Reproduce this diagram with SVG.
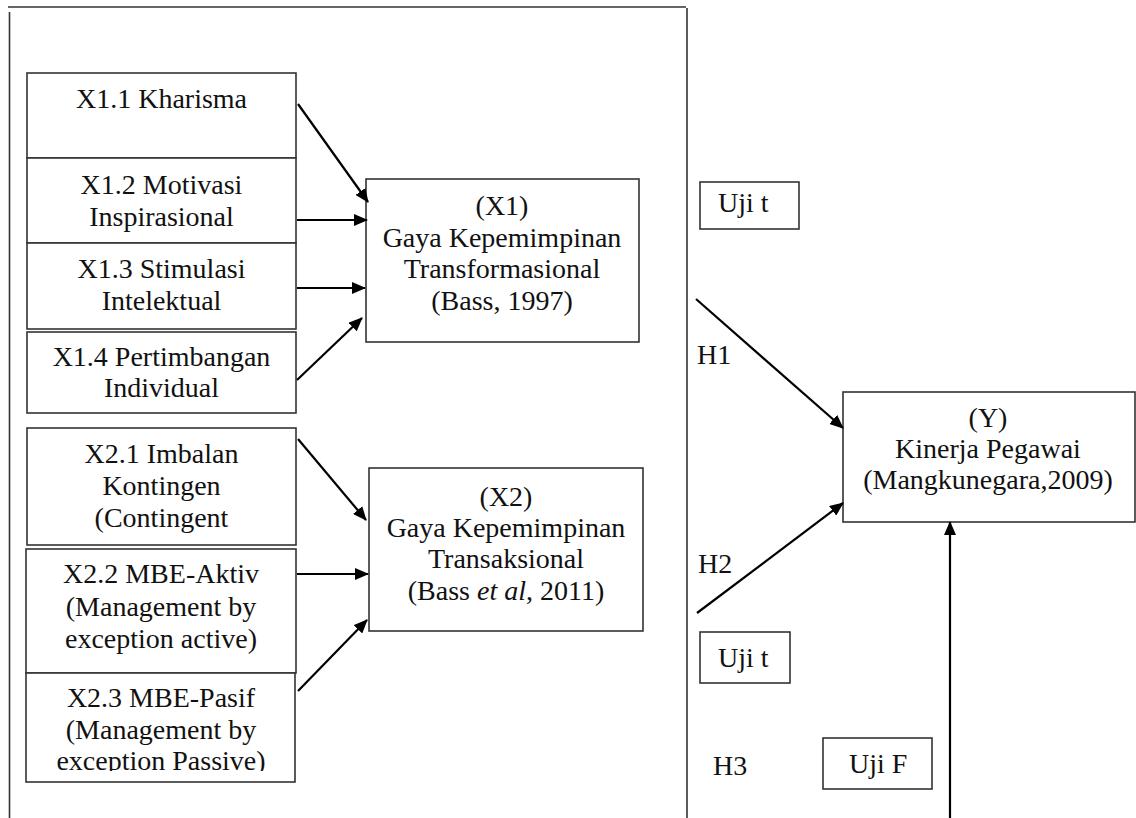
<svg xmlns="http://www.w3.org/2000/svg" width="1136" height="818" viewBox="0 0 1136 818">
<style>
.box{fill:#fff;stroke:#333;stroke-width:1.6}
.frame{fill:none;stroke:#333;stroke-width:1.6}
.t{font-family:"Liberation Serif","Times New Roman",serif;font-size:28px;fill:#111}
.c{text-anchor:middle}
.arr{stroke:#000;stroke-width:2.2;fill:none;marker-end:url(#ah)}
</style>
<defs>
<marker id="ah" viewBox="0 0 14 12" refX="13" refY="6" markerWidth="14" markerHeight="12" markerUnits="userSpaceOnUse" orient="auto">
<path d="M0,0 L14,6 L0,12 z" fill="#000"/>
</marker>
<clipPath id="clipX23"><rect x="26" y="673" width="270" height="98"/></clipPath>
</defs>
<rect width="1136" height="818" fill="#fff"/>
<g id="frame">
<line class="frame" x1="8" y1="7" x2="686" y2="7" stroke="#555"/>
<line class="frame" x1="9.5" y1="12" x2="9.5" y2="818"/>
<line class="frame" x1="687" y1="8" x2="687" y2="818"/>
</g>
<g id="x11"><rect class="box" x="27" y="73" width="269" height="85"/><text class="t c" x="161.5" y="108">X1.1 Kharisma</text></g>
<g id="x12"><rect class="box" x="27" y="158" width="269" height="85"/><text class="t c" x="161.5" y="194">X1.2 Motivasi</text><text class="t c" x="161.5" y="226">Inspirasional</text></g>
<g id="x13"><rect class="box" x="27" y="243" width="269" height="86"/><text class="t c" x="161.5" y="278">X1.3 Stimulasi</text><text class="t c" x="161.5" y="310">Intelektual</text></g>
<g id="x14"><rect class="box" x="27" y="332" width="269" height="81"/><text class="t c" x="161.5" y="366">X1.4 Pertimbangan</text><text class="t c" x="161.5" y="397">Individual</text></g>
<g id="x21"><rect class="box" x="27" y="428" width="269" height="117"/><text class="t c" x="161.5" y="463">X2.1 Imbalan</text><text class="t c" x="161.5" y="495">Kontingen</text><text class="t c" x="161.5" y="527">(Contingent</text></g>
<g id="x22"><rect class="box" x="26" y="549" width="270" height="124"/><text class="t c" x="161" y="583">X2.2 MBE-Aktiv</text><text class="t c" x="161" y="616">(Management by</text><text class="t c" x="161" y="648">exception active)</text></g>
<g id="x23"><rect class="box" x="26" y="673" width="269" height="109"/><g clip-path="url(#clipX23)"><text class="t c" x="161" y="707">X2.3 MBE-Pasif</text><text class="t c" x="161" y="739">(Management by</text><text class="t c" x="161" y="770">exception Passive)</text></g></g>
<g id="x1"><rect class="box" x="366" y="179" width="273" height="163"/><text class="t c" x="502" y="215">(X1)</text><text class="t c" x="502" y="247">Gaya Kepemimpinan</text><text class="t c" x="502" y="278">Transformasional</text><text class="t c" x="502" y="310">(Bass, 1997)</text></g>
<g id="x2"><rect class="box" x="369" y="468" width="274" height="163"/><text class="t c" x="506" y="506">(X2)</text><text class="t c" x="506" y="537">Gaya Kepemimpinan</text><text class="t c" x="506" y="568">Transaksional</text><text class="t c" x="506" y="600">(Bass <tspan font-style="italic">et al</tspan>, 2011)</text></g>
<g id="y"><rect class="box" x="843" y="392" width="292" height="130"/><text class="t c" x="988" y="427">(Y)</text><text class="t c" x="988" y="458">Kinerja Pegawai</text><text class="t c" x="988" y="489">(Mangkunegara,2009)</text></g>
<g id="ujit1"><rect class="box" x="700" y="182" width="99" height="47"/><text class="t" x="718" y="212">Uji t</text></g>
<g id="ujit2"><rect class="box" x="700" y="632" width="90" height="51"/><text class="t" x="718" y="667">Uji t</text></g>
<g id="ujif"><rect class="box" x="823" y="738" width="109" height="51"/><text class="t" x="849" y="773">Uji F</text></g>
<g id="labels">
<text class="t" x="697" y="364">H1</text>
<text class="t" x="698" y="573">H2</text>
<text class="t" x="713" y="775">H3</text>
</g>
<g id="connectors">
<line class="arr" x1="298" y1="104" x2="368" y2="202"/>
<line class="arr" x1="297" y1="220" x2="367" y2="220"/>
<line class="arr" x1="297" y1="288" x2="365" y2="288"/>
<line class="arr" x1="297" y1="380" x2="362" y2="318"/>
<line class="arr" x1="298" y1="439" x2="366" y2="520"/>
<line class="arr" x1="297" y1="574" x2="368" y2="574"/>
<line class="arr" x1="298" y1="691" x2="367" y2="620"/>
<line class="arr" x1="696" y1="299" x2="843" y2="428"/>
<line class="arr" x1="697" y1="613" x2="843" y2="503"/>
<line class="arr" x1="950" y1="818" x2="950" y2="522" stroke-width="3"/>
</g>
</svg>
